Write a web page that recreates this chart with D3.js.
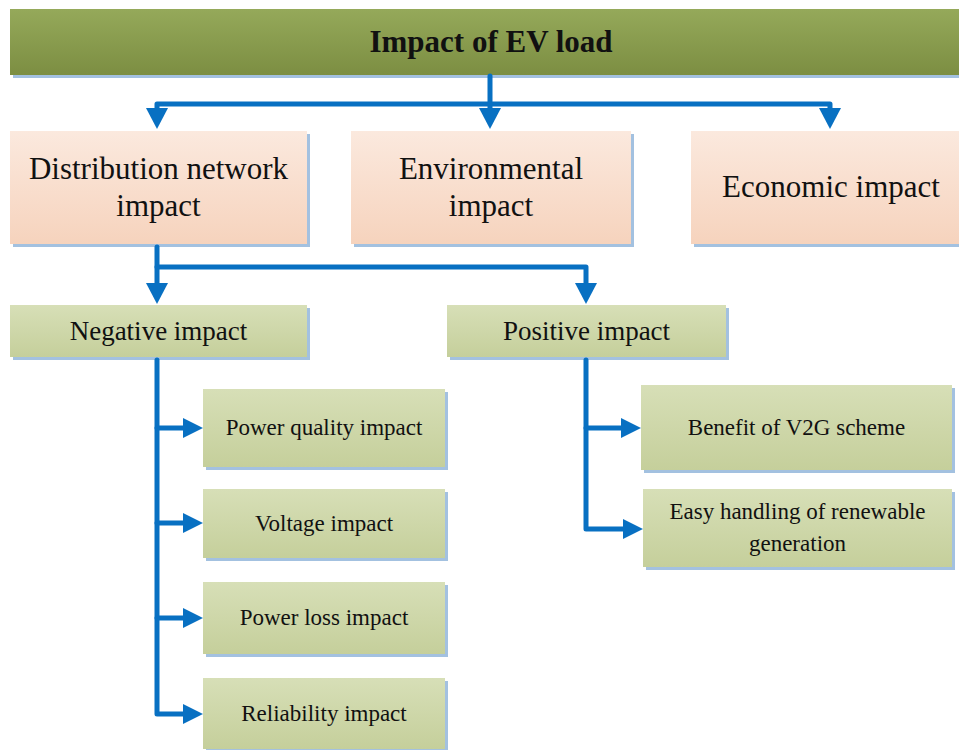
<!DOCTYPE html>
<html>
<head>
<meta charset="utf-8">
<script src="https://cdn.jsdelivr.net/npm/d3@7"></script>
<style>
  body { margin: 0; background: #fff; }
  svg { display: block; }
  text { font-family: "Liberation Serif", "Times New Roman", serif; fill: #111; }
</style>
</head>
<body>
<div id="chart"></div>
<script>
// diagram content
var title = "Impact of EV load";
var areas = [["Distribution network", "impact"], ["Environmental", "impact"], ["Economic impact"]];
var effects = [["Negative impact"], ["Positive impact"]];
var negativeItems = [["Power quality impact"], ["Voltage impact"], ["Power loss impact"], ["Reliability impact"]];
var positiveItems = [["Benefit of V2G scheme"], ["Easy handling of renewable", "generation"]];

var width = 959, height = 750;
var blue = "#0870c2";

var svg = d3.select("#chart").append("svg")
    .attr("width", width)
    .attr("height", height);

var defs = svg.append("defs");
function grad(id, top, bottom) {
  var g = defs.append("linearGradient").attr("id", id)
      .attr("x1", 0).attr("y1", 0).attr("x2", 0).attr("y2", 1);
  g.append("stop").attr("offset", "0%").attr("stop-color", top);
  g.append("stop").attr("offset", "100%").attr("stop-color", bottom);
}
grad("gTitle", "#95a95a", "#7c8e42");
grad("gPeach", "#fbe9de", "#f6d3bd");
grad("gGreen", "#d7dfb7", "#c5cf9b");

// layout: each box gets x0, x1, y0, y1, the lines and style
var boxes = [];
boxes.push({ x0: 10, x1: 972, y0: 9, y1: 75, lines: [title], fill: "url(#gTitle)", size: 31, bold: true });

var areaX = [[10, 307], [351, 631], [691, 971]];
areas.forEach(function (d, i) {
  boxes.push({ x0: areaX[i][0], x1: areaX[i][1], y0: 131, y1: 244, lines: d, fill: "url(#gPeach)", size: 31, lh: 37 });
});

var effectX = [[10, 307], [447, 726]];
effects.forEach(function (d, i) {
  boxes.push({ x0: effectX[i][0], x1: effectX[i][1], y0: 305, y1: 357, lines: d, fill: "url(#gGreen)", size: 27 });
});

var negY = [[389, 467], [489, 558], [582, 654], [678, 749]];
negativeItems.forEach(function (d, i) {
  boxes.push({ x0: 203, x1: 445, y0: negY[i][0], y1: negY[i][1], lines: d, fill: "url(#gGreen)", size: 23 });
});

var posY = [[385, 470], [489, 567]];
positiveItems.forEach(function (d, i) {
  boxes.push({ x0: 641 + i * 2, x1: 952, y0: posY[i][0], y1: posY[i][1], lines: d, fill: "url(#gGreen)", size: 23, lh: 32 });
});

var g = svg.append("g").selectAll("g.box")
    .data(boxes)
  .enter().append("g")
    .attr("class", "box");

// shadow
g.append("rect")
    .attr("x", function (d) { return d.x0 + 3; })
    .attr("y", function (d) { return d.y0 + 3; })
    .attr("width", function (d) { return d.x1 - d.x0; })
    .attr("height", function (d) { return d.y1 - d.y0; })
    .attr("fill", "#a3c1e0");

g.append("rect")
    .attr("x", function (d) { return d.x0; })
    .attr("y", function (d) { return d.y0; })
    .attr("width", function (d) { return d.x1 - d.x0; })
    .attr("height", function (d) { return d.y1 - d.y0; })
    .attr("fill", function (d) { return d.fill; });

g.each(function (d) {
  var cx = (d.x0 + d.x1) / 2, cy = (d.y0 + d.y1) / 2;
  var lh = d.lh || d.size * 1.2;
  var first = cy - (d.lines.length - 1) * lh / 2 + d.size * 0.32;
  d3.select(this).selectAll("text")
      .data(d.lines)
    .enter().append("text")
      .attr("x", cx)
      .attr("y", function (t, i) { return first + i * lh; })
      .attr("text-anchor", "middle")
      .style("font-size", d.size + "px")
      .style("font-weight", d.bold ? "bold" : "normal")
      .text(function (t) { return t; });
});

// connectors
var lines = svg.append("g")
    .attr("fill", "none")
    .attr("stroke", blue)
    .attr("stroke-width", 5)
    .attr("stroke-linejoin", "round")
    .attr("stroke-linecap", "round");

var paths = [
  "M490,76 V104",
  "M157,115 V104 H830 V115",
  "M490,104 V115",
  "M157,247 V290",
  "M157,267 H586 V290",
  "M157,360 V714 H188",
  "M157,428 H188", "M157,523 H188", "M157,618 H188",
  "M586,360 V529 H628",
  "M586,428 H626"
];
lines.selectAll("path").data(paths).enter().append("path").attr("d", function (d) { return d; });

// arrow heads: [tipX, tipY, direction]
var heads = [
  [157, 129, "down"], [490, 129, "down"], [830, 129, "down"],
  [157, 304, "down"], [586, 304, "down"],
  [203, 428, "right"], [203, 523, "right"], [203, 618, "right"], [203, 714, "right"],
  [641, 428, "right"], [643, 529, "right"]
];
svg.append("g").selectAll("path")
    .data(heads)
  .enter().append("path")
    .attr("fill", blue)
    .attr("d", function (d) {
      var x = d[0], y = d[1];
      if (d[2] === "down") return "M" + (x - 11) + "," + (y - 21) + "L" + (x + 11) + "," + (y - 21) + "L" + x + "," + y + "Z";
      return "M" + (x - 20) + "," + (y - 10) + "L" + (x - 20) + "," + (y + 10) + "L" + x + "," + y + "Z";
    });
</script>
</body>
</html>
